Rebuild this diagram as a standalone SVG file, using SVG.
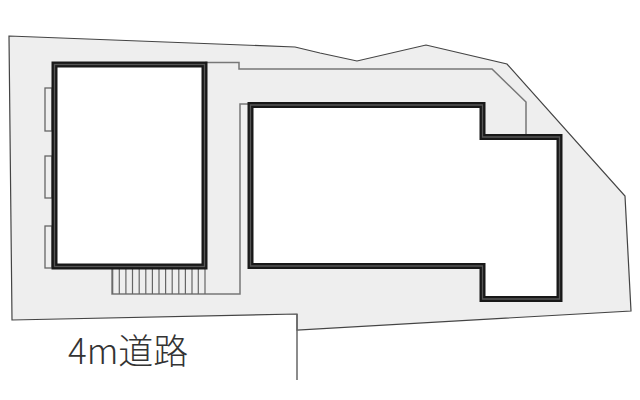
<svg xmlns="http://www.w3.org/2000/svg" width="640" height="400" viewBox="0 0 640 400">
<style>
.lot{fill:#eeeeee;stroke:#444;stroke-width:1.2;stroke-linejoin:miter}
.thin{fill:none;stroke:#777;stroke-width:1.5}
.hatch{fill:none;stroke:#666;stroke-width:1.2}
.wo{fill:#fff;stroke:#181818;stroke-width:6;stroke-linejoin:miter}
.wi{fill:none;stroke:#555;stroke-width:1.3;stroke-linejoin:miter}
.box{fill:#eee;stroke:#666;stroke-width:1.3}
text{font-family:"Noto Sans CJK JP","Noto Sans",sans-serif;font-size:35px;fill:#333;font-weight:300}
</style>
<rect width="640" height="400" fill="#fff"/>
<polygon class="lot" points="9,36 295,47 320,53 357,61 426,45 507,64 625,196 631,311 297,330 297,314 12,320"/>
<path d="M297,314V380" class="thin" style="stroke:#666"/>
<path class="thin" d="M205,62.5H239V69H492L526,102V136"/>
<path class="thin" d="M249,104H240V294H112V269"/>
<path class="hatch" d="M112.7,269V294M119.3,269V294M125.9,269V294M132.5,269V294M139.2,269V294M145.8,269V294M152.4,269V294M159,269V294M165.6,269V294M172.2,269V294M178.8,269V294M185.4,269V294M192,269V294M198.3,269V294M205,269V294"/>
<rect class="box" x="45" y="88" width="7" height="43"/>
<rect class="box" x="45" y="156" width="7" height="42"/>
<rect class="box" x="45" y="226" width="7" height="42"/>
<g id="building-1">
<rect class="wo" x="54.5" y="64.5" width="150" height="202"/>
<rect class="wi" x="54.5" y="64.5" width="150" height="202"/>
</g>
<g id="building-2">
<polygon class="wo" points="250.5,105 482.5,105 482.5,137 559.5,137 559.5,299 482.5,299 482.5,266 250.5,266"/>
<polygon class="wi" points="250.5,105 482.5,105 482.5,137 559.5,137 559.5,299 482.5,299 482.5,266 250.5,266"/>
</g>
<text x="68" y="364" xml:lang="ja">4m道路</text>
</svg>
